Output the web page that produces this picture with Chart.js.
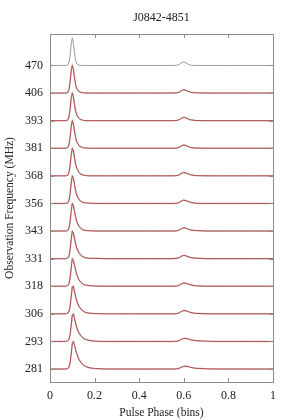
<!DOCTYPE html>
<html>
<head>
<meta charset="utf-8">
<script src="https://cdn.jsdelivr.net/npm/chart.js@4"></script>
<style>
  html, body { margin: 0; padding: 0; background: #fff; }
  #wrap { width: 294px; height: 420px; }
</style>
</head>
<body>
<div id="wrap"><canvas id="profiles" width="294" height="420"></canvas></div>
<script>
// observation frequencies, top to bottom (MHz)
const freqLabels = ["470", "406", "393", "381", "368", "356", "343", "331", "318", "306", "293", "281"];

// pulse phase grid shared by all profiles
const phase = [0, 0.03, 0.06, 0.07, 0.075, 0.08, 0.085, 0.09, 0.095, 0.1, 0.105, 0.11, 0.115, 0.12,
  0.13, 0.14, 0.15, 0.16, 0.18, 0.2, 0.25, 0.3, 0.35, 0.4, 0.45, 0.5,
  0.55, 0.57, 0.58, 0.59, 0.6, 0.61, 0.62, 0.63, 0.65, 0.7, 0.75, 0.8, 0.85, 0.9, 0.95, 1];

// normalised profile amplitude per channel
const p470 = [0, 0, 0, 0, 0, .02, .1, .35, .75, 1, .8, .45, .18, .06, .01, 0, 0, 0, 0, 0, 0, 0, 0, 0, 0, 0, 0, .01, .04, .1, .13, .09, .04, .01, 0, 0, 0, 0, 0, 0, 0, 0];
const p406 = [0, 0, 0, 0, .01, .03, .12, .4, .8, 1, .85, .55, .3, .16, .06, .02, .01, 0, 0, 0, 0, 0, 0, 0, 0, 0, 0, .01, .04, .09, .12, .1, .06, .03, .01, 0, 0, 0, 0, 0, 0, 0];
const p393 = [0, 0, 0, 0, .01, .03, .12, .4, .8, 1, .87, .58, .34, .2, .08, .03, .01, 0, 0, 0, 0, 0, 0, 0, 0, 0, 0, .01, .04, .09, .12, .1, .06, .03, .01, 0, 0, 0, 0, 0, 0, 0];
const p381 = [0, 0, 0, 0, .01, .03, .12, .38, .78, 1, .88, .62, .38, .23, .1, .04, .02, .01, 0, 0, 0, 0, 0, 0, 0, 0, 0, .01, .04, .09, .12, .1, .06, .03, .01, 0, 0, 0, 0, 0, 0, 0];
const p368 = [0, 0, 0, 0, .01, .03, .11, .36, .76, 1, .9, .65, .42, .27, .12, .05, .03, .01, 0, 0, 0, 0, 0, 0, 0, 0, 0, .01, .04, .09, .12, .1, .07, .04, .01, 0, 0, 0, 0, 0, 0, 0];
const p356 = [0, 0, 0, 0, .01, .03, .1, .34, .74, 1, .91, .68, .46, .3, .14, .07, .03, .02, .01, 0, 0, 0, 0, 0, 0, 0, 0, .01, .04, .09, .12, .1, .07, .04, .01, 0, 0, 0, 0, 0, 0, 0];
const p343 = [0, 0, 0, 0, .01, .03, .1, .32, .72, 1, .92, .71, .5, .34, .17, .09, .04, .02, .01, 0, 0, 0, 0, 0, 0, 0, 0, .01, .04, .09, .12, .1, .07, .04, .02, 0, 0, 0, 0, 0, 0, 0];
const p331 = [0, 0, 0, 0, .01, .03, .09, .3, .7, 1, .93, .74, .54, .38, .2, .11, .06, .03, .01, .01, 0, 0, 0, 0, 0, 0, 0, .01, .04, .09, .12, .1, .07, .04, .02, 0, 0, 0, 0, 0, 0, 0];
const p318 = [0, 0, 0, 0, .01, .03, .09, .28, .66, 1, .94, .77, .58, .42, .23, .13, .07, .04, .02, .01, 0, 0, 0, 0, 0, 0, 0, .01, .04, .09, .12, .11, .08, .05, .02, 0, 0, 0, 0, 0, 0, 0];
const p306 = [0, 0, 0, 0, .01, .03, .08, .26, .62, .98, 1, .8, .62, .46, .27, .16, .09, .05, .02, .01, 0, 0, 0, 0, 0, 0, 0, .01, .04, .09, .12, .11, .08, .05, .02, 0, 0, 0, 0, 0, 0, 0];
const p293 = [0, 0, 0, 0, .01, .03, .08, .24, .58, .95, 1, .83, .66, .5, .3, .19, .11, .07, .03, .01, 0, 0, 0, 0, 0, 0, 0, .01, .03, .08, .11, .11, .09, .06, .03, .01, 0, 0, 0, 0, 0, 0];
const p281 = [0, 0, 0, 0, .01, .02, .07, .22, .54, .92, 1, .86, .7, .55, .35, .22, .14, .09, .04, .02, 0, 0, 0, 0, 0, 0, 0, .01, .03, .07, .1, .1, .09, .06, .03, .01, 0, 0, 0, 0, 0, 0];

const profiles = [p470, p406, p393, p381, p368, p356, p343, p331, p318, p306, p293, p281];

const titleText = "J0842-4851";
const frameColor = "#8c8c8c";
const nChan = freqLabels.length;
const serif = "'Liberation Serif', 'DejaVu Serif', serif";

const datasets = [];
profiles.forEach((prof, i) => {
  const off = nChan - 1 - i;
  const pts = phase.map((x, k) => ({ x: x, y: off + prof[k] }));
  if (i == 0) {
    datasets.push({ data: pts, borderColor: "#9a9a9a", borderWidth: 1 });
  } else {
    // data (dark) underneath, fitted model (red) on top
    datasets.push({ data: pts, borderColor: "rgba(70,50,50,0.3)", borderWidth: 1.5 });
    datasets.push({ data: pts, borderColor: "rgb(226,88,88)", borderWidth: 1 });
  }
});

// inward tick marks, full frame and a title centred over the plot
const frame = {
  id: "frame",
  afterDatasetsDraw(chart) {
    const ctx = chart.ctx;
    const a = chart.chartArea;
    const xs = chart.scales.x, ys = chart.scales.y;
    ctx.save();
    ctx.strokeStyle = frameColor;
    ctx.lineWidth = 1;
    ctx.beginPath();
    xs.ticks.forEach(t => {
      const px = Math.round(xs.getPixelForValue(t.value)) + 0.5;
      ctx.moveTo(px, a.bottom); ctx.lineTo(px, a.bottom - 4);
      ctx.moveTo(px, a.top); ctx.lineTo(px, a.top + 4);
    });
    ys.ticks.forEach(t => {
      const py = Math.round(ys.getPixelForValue(t.value)) + 0.5;
      ctx.moveTo(a.left, py); ctx.lineTo(a.left + 4, py);
      ctx.moveTo(a.right, py); ctx.lineTo(a.right - 4, py);
    });
    ctx.stroke();
    ctx.strokeRect(Math.round(a.left) + 0.5, Math.round(a.top) + 0.5,
      Math.round(a.right - a.left), Math.round(a.bottom - a.top));

    ctx.fillStyle = "#222";
    ctx.font = "12px " + serif;
    ctx.textAlign = "center";
    ctx.textBaseline = "middle";
    ctx.fillText(titleText, (a.left + a.right) / 2, 18);
    ctx.restore();
  }
};

new Chart(document.getElementById("profiles"), {
  type: "line",
  data: { datasets: datasets },
  plugins: [frame],
  options: {
    responsive: false,
    animation: false,
    devicePixelRatio: 1,
    layout: { padding: { top: 34, right: 21, left: 0, bottom: 0 } },
    elements: { point: { radius: 0 }, line: { tension: 0 } },
    plugins: {
      legend: { display: false },
      tooltip: { enabled: false },
      title: { display: false }
    },
    scales: {
      x: {
        type: "linear",
        min: 0,
        max: 1,
        grid: { display: false, drawTicks: false },
        border: { display: false },
        ticks: {
          stepSize: 0.2,
          color: "#222",
          padding: 7,
          font: { family: serif, size: 12 },
          callback: (v) => String(Math.round(v * 10) / 10)
        },
        title: {
          display: true,
          text: "Pulse Phase (bins)",
          color: "#222",
          font: { family: serif, size: 11.5 },
          padding: { top: 2, bottom: 0 }
        },
        afterFit(scale) { scale.height = 38; }
      },
      y: {
        type: "linear",
        min: -0.47,
        max: 12.14,
        grid: { display: false, drawTicks: false },
        border: { display: false },
        afterBuildTicks(scale) {
          scale.ticks = freqLabels.map((f, i) => ({ value: nChan - 1 - i }));
        },
        ticks: {
          color: "#222",
          padding: 7,
          font: { family: serif, size: 12 },
          callback: (v) => freqLabels[nChan - 1 - Math.round(v)]
        },
        title: {
          display: true,
          text: "Observation Frequency (MHz)",
          color: "#222",
          font: { family: serif, size: 11.5 },
          padding: { top: 3, bottom: 0 }
        },
        afterFit(scale) { scale.width = 50; }
      }
    }
  }
});
</script>
</body>
</html>
